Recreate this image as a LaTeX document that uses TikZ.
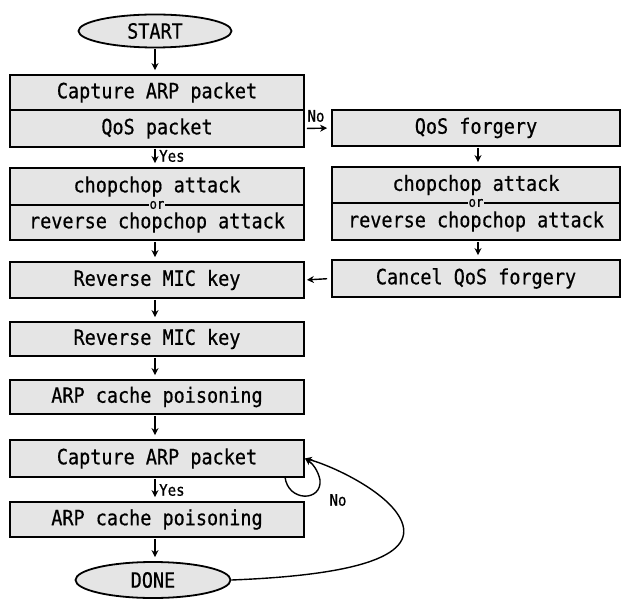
\documentclass[tikz,border=0pt]{standalone}
\usepackage{fontspec}
\newfontfamily\mono[FakeStretch=0.88,FakeBold=0.6]{DejaVu Sans Mono}
\usetikzlibrary{arrows.meta,shapes.geometric}
\begin{document}
\begin{tikzpicture}[x=1pt,y=-1pt,
  box/.style={draw, line width=1.8pt, fill=gray!20, minimum width=294pt, inner sep=0pt,
    font=\mono\fontsize{21}{21}\selectfont},
  rbox/.style={box, minimum width=288pt},
  term/.style={draw, ellipse, line width=1.8pt, fill=gray!20, inner sep=0pt,
    font=\mono\fontsize{21}{21}\selectfont},
  lbl/.style={font=\mono\fontsize{16}{16}\selectfont, inner sep=1pt},
  orlbl/.style={font=\mono\fontsize{14}{14}\selectfont, inner sep=0.5pt, fill=gray!20},
  arr/.style={line width=1.4pt, -{Stealth[length=7pt,width=7pt]}},
  flow/.style={arr, shorten >=4pt, shorten <=1pt}
]
\useasboundingbox (0,0) rectangle (623,601);

% left column
\node[term, minimum width=153pt, minimum height=33pt] (start) at (155,31) {START};
\node[box, minimum height=35pt] (b1a) at (157,92.5) {Capture ARP packet};
\node[box, minimum height=37pt] (b1b) at (157,128.5) {QoS packet};
\node[box, minimum height=37pt] (c1a) at (157,186.5) {chopchop attack};
\node[box, minimum height=35pt] (c1b) at (157,222.5) {reverse chopchop attack};
\node[orlbl] (or1) at (157,205) {or};
\node[box, minimum height=36pt] (mic1) at (157,280) {Reverse MIC key};
\node[box, minimum height=34pt] (mic2) at (157,339) {Reverse MIC key};
\node[box, minimum height=34pt] (arp1) at (157,397) {ARP cache poisoning};
\node[box, minimum height=37pt] (cap2) at (157,458.5) {Capture ARP packet};
\node[box, minimum height=35pt] (arp2) at (157,519.5) {ARP cache poisoning};
\node[term, minimum width=155pt, minimum height=36pt] (done) at (153,580) {DONE};

% right column
\node[rbox, minimum height=36pt] (qf) at (476,128) {QoS forgery};
\node[rbox, minimum height=36pt] (c2a) at (476,185) {chopchop attack};
\node[rbox, minimum height=37pt] (c2b) at (476,221.5) {reverse chopchop attack};
\node[orlbl] (or2) at (476,203) {or};
\node[rbox, minimum height=37pt] (cancel) at (476,278.5) {Cancel QoS forgery};

% vertical arrows left
\draw[flow] (start.south -| 155,0) -- (b1a.north -| 155,0);
\draw[flow] (b1b.south -| 155,0) -- (c1a.north -| 155,0);
\draw[flow] (c1b.south -| 155,0) -- (mic1.north -| 155,0);
\draw[flow] (mic1.south -| 155,0) -- (mic2.north -| 155,0);
\draw[flow] (mic2.south -| 155,0) -- (arp1.north -| 155,0);
\draw[flow] (arp1.south -| 155,0) -- (cap2.north -| 155,0);
\draw[flow] (cap2.south -| 155,0) -- (arp2.north -| 155,0);
\draw[flow] (arp2.south -| 155,0) -- (done.north -| 155,0);

% vertical arrows right
\draw[flow] (qf.south -| 478,0) -- (c2a.north -| 478,0);
\draw[flow] (c2b.south -| 478,0) -- (cancel.north -| 478,0);

% horizontal arrows
\draw[arr, shorten <=2pt, shorten >=4pt] (b1b.east) -- (qf.west);
\draw[arr, shorten <=4pt, shorten >=2pt] (cancel.west) -- (mic1.east);

% labels
\node[lbl, anchor=west] (yes1) at (158,156) {Yes};
\node[lbl, anchor=west] (yes2) at (158,490) {Yes};
\node[lbl] (no1) at (316,116) {No};
\node[lbl] (no2) at (338,500) {No};

% loops back to capture
\coordinate (lp) at (285,477);
\draw[line width=1.4pt] (lp) .. controls (288,502) and (322,502) .. (320,480);
\draw[arr] (320,480) .. controls (318,470) and (312,463) .. (cap2.east);
\draw[arr] (done.east) .. controls (360,575) and (420,555) .. (400,518)
  .. controls (385,490) and (330,465) .. (cap2.east);
\end{tikzpicture}
\end{document}
